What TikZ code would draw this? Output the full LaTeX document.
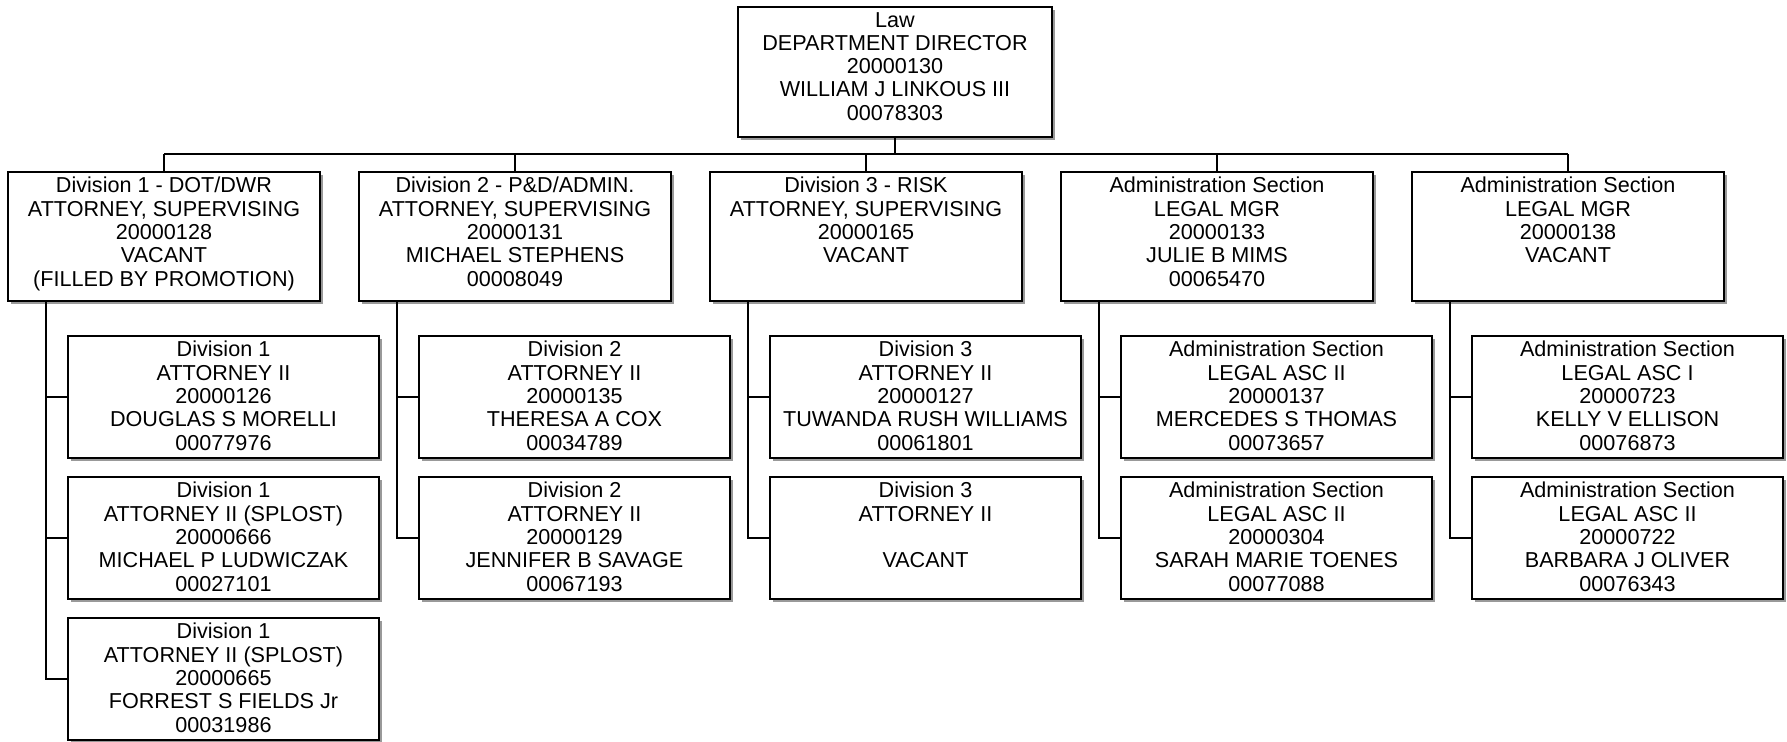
\documentclass[tikz,border=0pt]{standalone}
\usepackage{fontspec}
\setmainfont{Liberation Sans}
\usetikzlibrary{shadows}

\tikzset{
	post/.style={draw, line width=0.9pt, fill=white, inner xsep=0pt, inner ysep=2.6pt,
		font=\fontsize{10.8pt}{11.65pt}\selectfont,
		drop shadow={shadow xshift=1.6pt, shadow yshift=-1.6pt, fill=black!40, opacity=1}},
	chief/.style={post, execute at begin node={\begin{minipage}[c][59.8pt][t]{157pt}\centering},
		execute at end node={\end{minipage}}},
	lead/.style={post, execute at begin node={\begin{minipage}[c][59.3pt][t]{156pt}\centering},
		execute at end node={\end{minipage}}},
	staff/.style={post, execute at begin node={\begin{minipage}[c][55.8pt][t]{155.5pt}\centering},
		execute at end node={\end{minipage}}},
	wire/.style={line width=0.9pt},
}

\begin{document}
\begin{tikzpicture}[x=0.5pt, y=-0.5pt]
	\useasboundingbox (0, 0) rectangle (1787, 742);

	\node[chief] (law) at (895, 72) {Law\\DEPARTMENT DIRECTOR\\20000130\\WILLIAM J LINKOUS III\\00078303};

	\node[lead] (dot) at (164, 236.5) {Division 1 - DOT/DWR\\ATTORNEY, SUPERVISING\\20000128\\VACANT\\(FILLED BY PROMOTION)};
	\node[lead] (pd) at (515, 236.5) {Division 2 - P\&D/ADMIN.\\ATTORNEY, SUPERVISING\\20000131\\MICHAEL STEPHENS\\00008049};
	\node[lead] (risk) at (866, 236.5) {Division 3 - RISK\\ATTORNEY, SUPERVISING\\20000165\\VACANT};
	\node[lead] (admA) at (1217, 236.5) {Administration Section\\LEGAL MGR\\20000133\\JULIE B MIMS\\00065470};
	\node[lead] (admB) at (1568, 236.5) {Administration Section\\LEGAL MGR\\20000138\\VACANT};

	\node[staff] (dot1) at (223.5, 397) {Division 1\\ATTORNEY II\\20000126\\DOUGLAS S MORELLI\\00077976};
	\node[staff] (dot2) at (223.5, 538) {Division 1\\ATTORNEY II (SPLOST)\\20000666\\MICHAEL P LUDWICZAK\\00027101};
	\node[staff] (dot3) at (223.5, 679) {Division 1\\ATTORNEY II (SPLOST)\\20000665\\FORREST S FIELDS Jr\\00031986};

	\node[staff] (pd1) at (574.5, 397) {Division 2\\ATTORNEY II\\20000135\\THERESA A COX\\00034789};
	\node[staff] (pd2) at (574.5, 538) {Division 2\\ATTORNEY II\\20000129\\JENNIFER B SAVAGE\\00067193};

	\node[staff] (risk1) at (925.5, 397) {Division 3\\ATTORNEY II\\20000127\\TUWANDA RUSH WILLIAMS\\00061801};
	\node[staff] (risk2) at (925.5, 538) {Division 3\\ATTORNEY II\\\mbox{}\\VACANT};

	\node[staff] (admA1) at (1276.5, 397) {Administration Section\\LEGAL ASC II\\20000137\\MERCEDES S THOMAS\\00073657};
	\node[staff] (admA2) at (1276.5, 538) {Administration Section\\LEGAL ASC II\\20000304\\SARAH MARIE TOENES\\00077088};

	\node[staff] (admB1) at (1627.5, 397) {Administration Section\\LEGAL ASC I\\20000723\\KELLY V ELLISON\\00076873};
	\node[staff] (admB2) at (1627.5, 538) {Administration Section\\LEGAL ASC II\\20000722\\BARBARA J OLIVER\\00076343};

	% top bus
	\coordinate (bus) at (0, 154);
	\draw[wire] (law.south) -- (law.south |- bus);
	\draw[wire] (dot.north |- bus) -- (admB.north |- bus);
	\draw[wire] (dot.north |- bus) -- (dot.north);
	\draw[wire] (pd.north |- bus) -- (pd.north);
	\draw[wire] (risk.north |- bus) -- (risk.north);
	\draw[wire] (admA.north |- bus) -- (admA.north);
	\draw[wire] (admB.north |- bus) -- (admB.north);

	% spines
	\coordinate (dotS) at ([xshift=19.25pt]dot.south west);
	\coordinate (pdS) at ([xshift=19.25pt]pd.south west);
	\coordinate (riskS) at ([xshift=19.25pt]risk.south west);
	\coordinate (admAS) at ([xshift=19.25pt]admA.south west);
	\coordinate (admBS) at ([xshift=19.25pt]admB.south west);

	\draw[wire] (dotS) |- (dot3.west);
	\draw[wire] (dot1.west -| dotS) -- (dot1.west);
	\draw[wire] (dot2.west -| dotS) -- (dot2.west);
	\draw[wire] (pdS) |- (pd2.west);
	\draw[wire] (pd1.west -| pdS) -- (pd1.west);
	\draw[wire] (riskS) |- (risk2.west);
	\draw[wire] (risk1.west -| riskS) -- (risk1.west);
	\draw[wire] (admAS) |- (admA2.west);
	\draw[wire] (admA1.west -| admAS) -- (admA1.west);
	\draw[wire] (admBS) |- (admB2.west);
	\draw[wire] (admB1.west -| admBS) -- (admB1.west);

\end{tikzpicture}
\end{document}
